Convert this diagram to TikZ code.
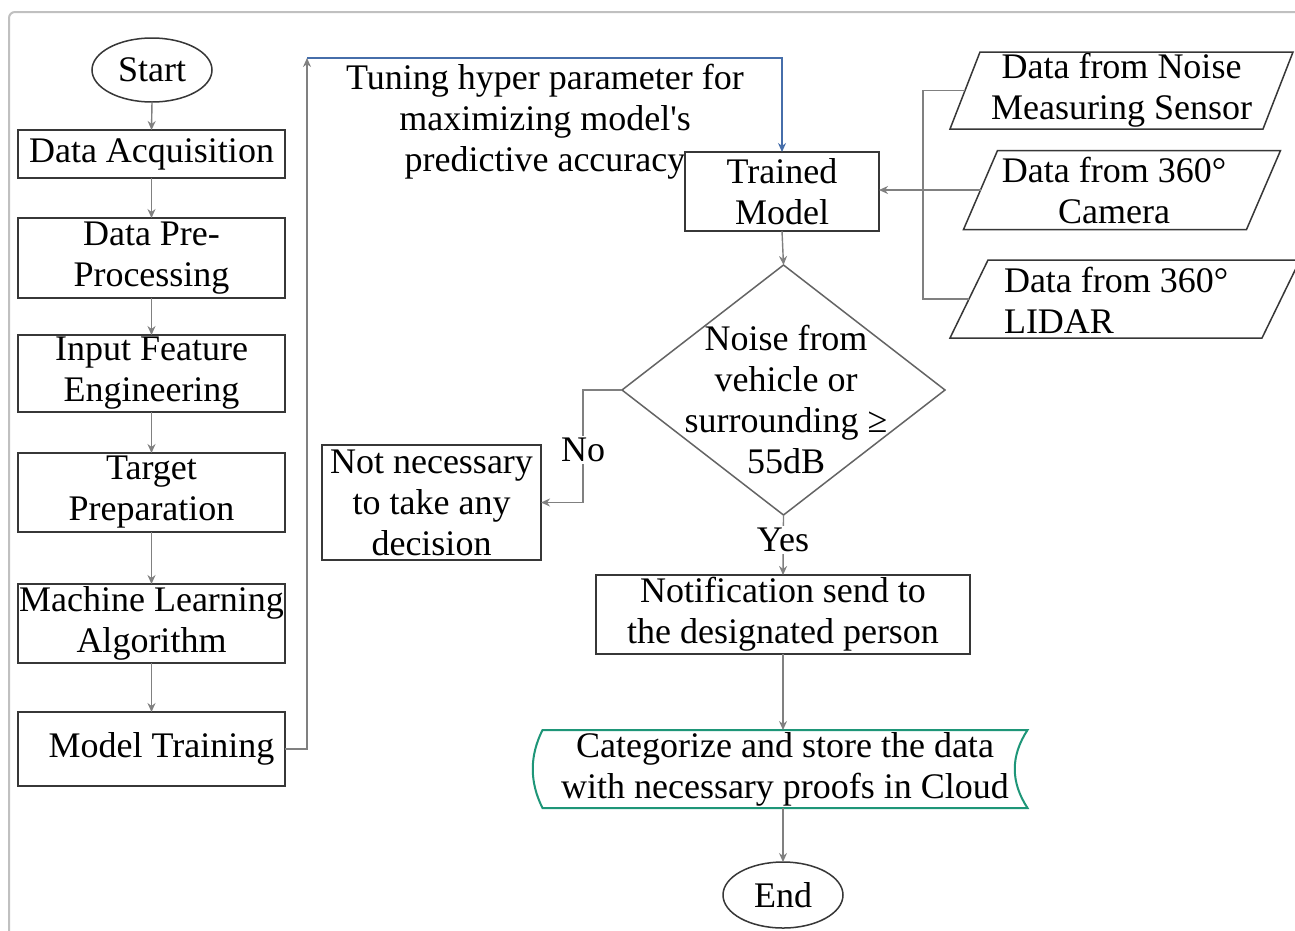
\documentclass[tikz,border=0pt]{standalone}
\usepackage{fontspec}
\setmainfont{Liberation Serif}
\usetikzlibrary{arrows.meta,calc,shapes.geometric}

\definecolor{conn}{RGB}{128,128,128}
\definecolor{edge}{RGB}{55,55,55}
\definecolor{diag}{RGB}{100,100,100}
\definecolor{loopblue}{RGB}{70,110,170}
\definecolor{storegreen}{RGB}{30,150,120}
\definecolor{framegray}{RGB}{192,192,192}

\tikzset{
  every node/.style={font=\fontsize{36}{41}\selectfont, inner sep=0pt, outer sep=0pt},
  procbox/.style={draw=edge, line width=1.5pt, rectangle, align=center},
  termnode/.style={draw=edge, line width=1.5pt, ellipse},
  shapebox/.style={rectangle, align=center},
  arr/.style={draw=conn, line width=1.4pt, -{Stealth[length=9pt,width=8pt]}},
  plainline/.style={draw=conn, line width=1.4pt},
  tag/.style={fill=white, inner sep=2pt},
}

% slanted input/output outline around a node: #1 node, #2 half slant
\newcommand\paraoutline[2]{%
  \draw[edge, line width=1.5pt]
    ($(#1.north west)+(#2,0)$) -- ($(#1.north east)+(#2,0)$) --
    ($(#1.south east)+(-#2,0)$) -- ($(#1.south west)+(-#2,0)$) -- cycle;}

\begin{document}
\begin{tikzpicture}[x=1pt,y=-1pt]
\clip (0,0) rectangle (1295,930);
\fill[white] (0,0) rectangle (1295,930);
\draw[framegray, line width=2pt, rounded corners=6pt] (9,12) rectangle (1330,970);

% left column: model building pipeline
\node[termnode, minimum width=120pt, minimum height=64pt] (start) at (152,70) {Start};
\node[procbox, minimum width=267pt, minimum height=48pt] (acq) at (151.5,154) {Data Acquisition};
\node[procbox, minimum width=267pt, minimum height=80pt] (pre) at (151.5,258) {Data Pre-\\Processing};
\node[procbox, minimum width=267pt, minimum height=77pt] (feat) at (151.5,373.5) {Input Feature\\Engineering};
\node[procbox, minimum width=267pt, minimum height=79pt] (target) at (151.5,492.5) {Target\\Preparation};
\node[procbox, minimum width=267pt, minimum height=79pt] (ml) at (151.5,623.5) {Machine Learning\\Algorithm};
\node[procbox, minimum width=267pt, minimum height=74pt] (train) at (151.5,749) {\hspace*{20pt}Model Training};

\draw[arr] (start.south) -- (acq.north);
\draw[arr] (acq.south) -- (pre.north);
\draw[arr] (pre.south) -- (feat.north);
\draw[arr] (feat.south) -- (target.north);
\draw[arr] (target.south) -- (ml.north);
\draw[arr] (ml.south) -- (train.north);

% tuning loop
\node[align=center] (tune) at (545,122) {Tuning hyper parameter for\\maximizing model\textquotesingle s\\predictive accuracy};
\node[procbox, minimum width=194pt, minimum height=79pt] (tm) at (782,191.5) {Trained\\Model};
\coordinate (loopTop) at (307,58);
\draw[arr] (train.east) -| (loopTop);
\draw[arr, draw=loopblue] (loopTop) -| (tm.north);

% sensor inputs
\node[shapebox, minimum width=313pt, minimum height=77pt] (p1) at (1121.5,90.5) {Data from Noise\\Measuring Sensor};
\node[shapebox, minimum width=283pt, minimum height=79pt] (p2) at (1122,190) {};
\node[align=center] (p2t) at (1114,190) {Data from 360°\\Camera};
\node[shapebox, minimum width=312pt, minimum height=78pt] (p3) at (1125,299) {};
\node[align=left, anchor=west] (p3t) at (1004,300) {Data from 360°\\LIDAR};
\paraoutline{p1}{15}
\paraoutline{p2}{17}
\paraoutline{p3}{19}

\coordinate (bus) at (923,190);
\draw[plainline] (p1.west) -| (bus);
\draw[plainline] (p3.west) -| (bus);
\draw[arr] (p2.west) -- (tm.east |- p2.west);

% decision
\node[minimum width=323pt, minimum height=250pt] (dec) at (783.5,390) {};
\draw[diag, line width=1.5pt] (dec.north) -- (dec.east) -- (dec.south) -- (dec.west) -- cycle;
\node[align=center] (dect) at (786,399) {Noise from\\vehicle or\\surrounding ≥\\55dB};
\draw[arr] (tm.south) -- (dec.north);

\node[procbox, minimum width=219pt, minimum height=115pt] (nobox) at (431.5,502.5) {Not necessary\\to take any\\decision};
\coordinate (noCorner) at (583,502.5);
\draw[arr] (dec.west) -| (noCorner) -- (nobox.east);
\node[tag] (nolabel) at (583,450) {No};

\node[procbox, minimum width=374pt, minimum height=79pt] (notif) at (783,614.5) {Notification send to\\the designated person};
\draw[arr] (dec.south) -- (notif.north);
\node[tag] (yeslabel) at (783,540) {Yes};

% storage and end
\node[shapebox, minimum width=485pt, minimum height=78pt] (store) at (785,769) {Categorize and store the data\\with necessary proofs in Cloud};
\draw[storegreen, line width=2pt]
  (store.north west) -- (store.north east)
  .. controls +(-17,26) and +(-17,-26) .. (store.south east)
  -- (store.south west)
  .. controls +(-13,-26) and +(-13,26) .. (store.north west) -- cycle;
\draw[arr] (notif.south) -- (notif.south |- store.north);

\node[termnode, minimum width=120pt, minimum height=66pt] (end) at (783,895) {End};
\draw[arr] (store.south -| end.north) -- (end.north);
\end{tikzpicture}
\end{document}
